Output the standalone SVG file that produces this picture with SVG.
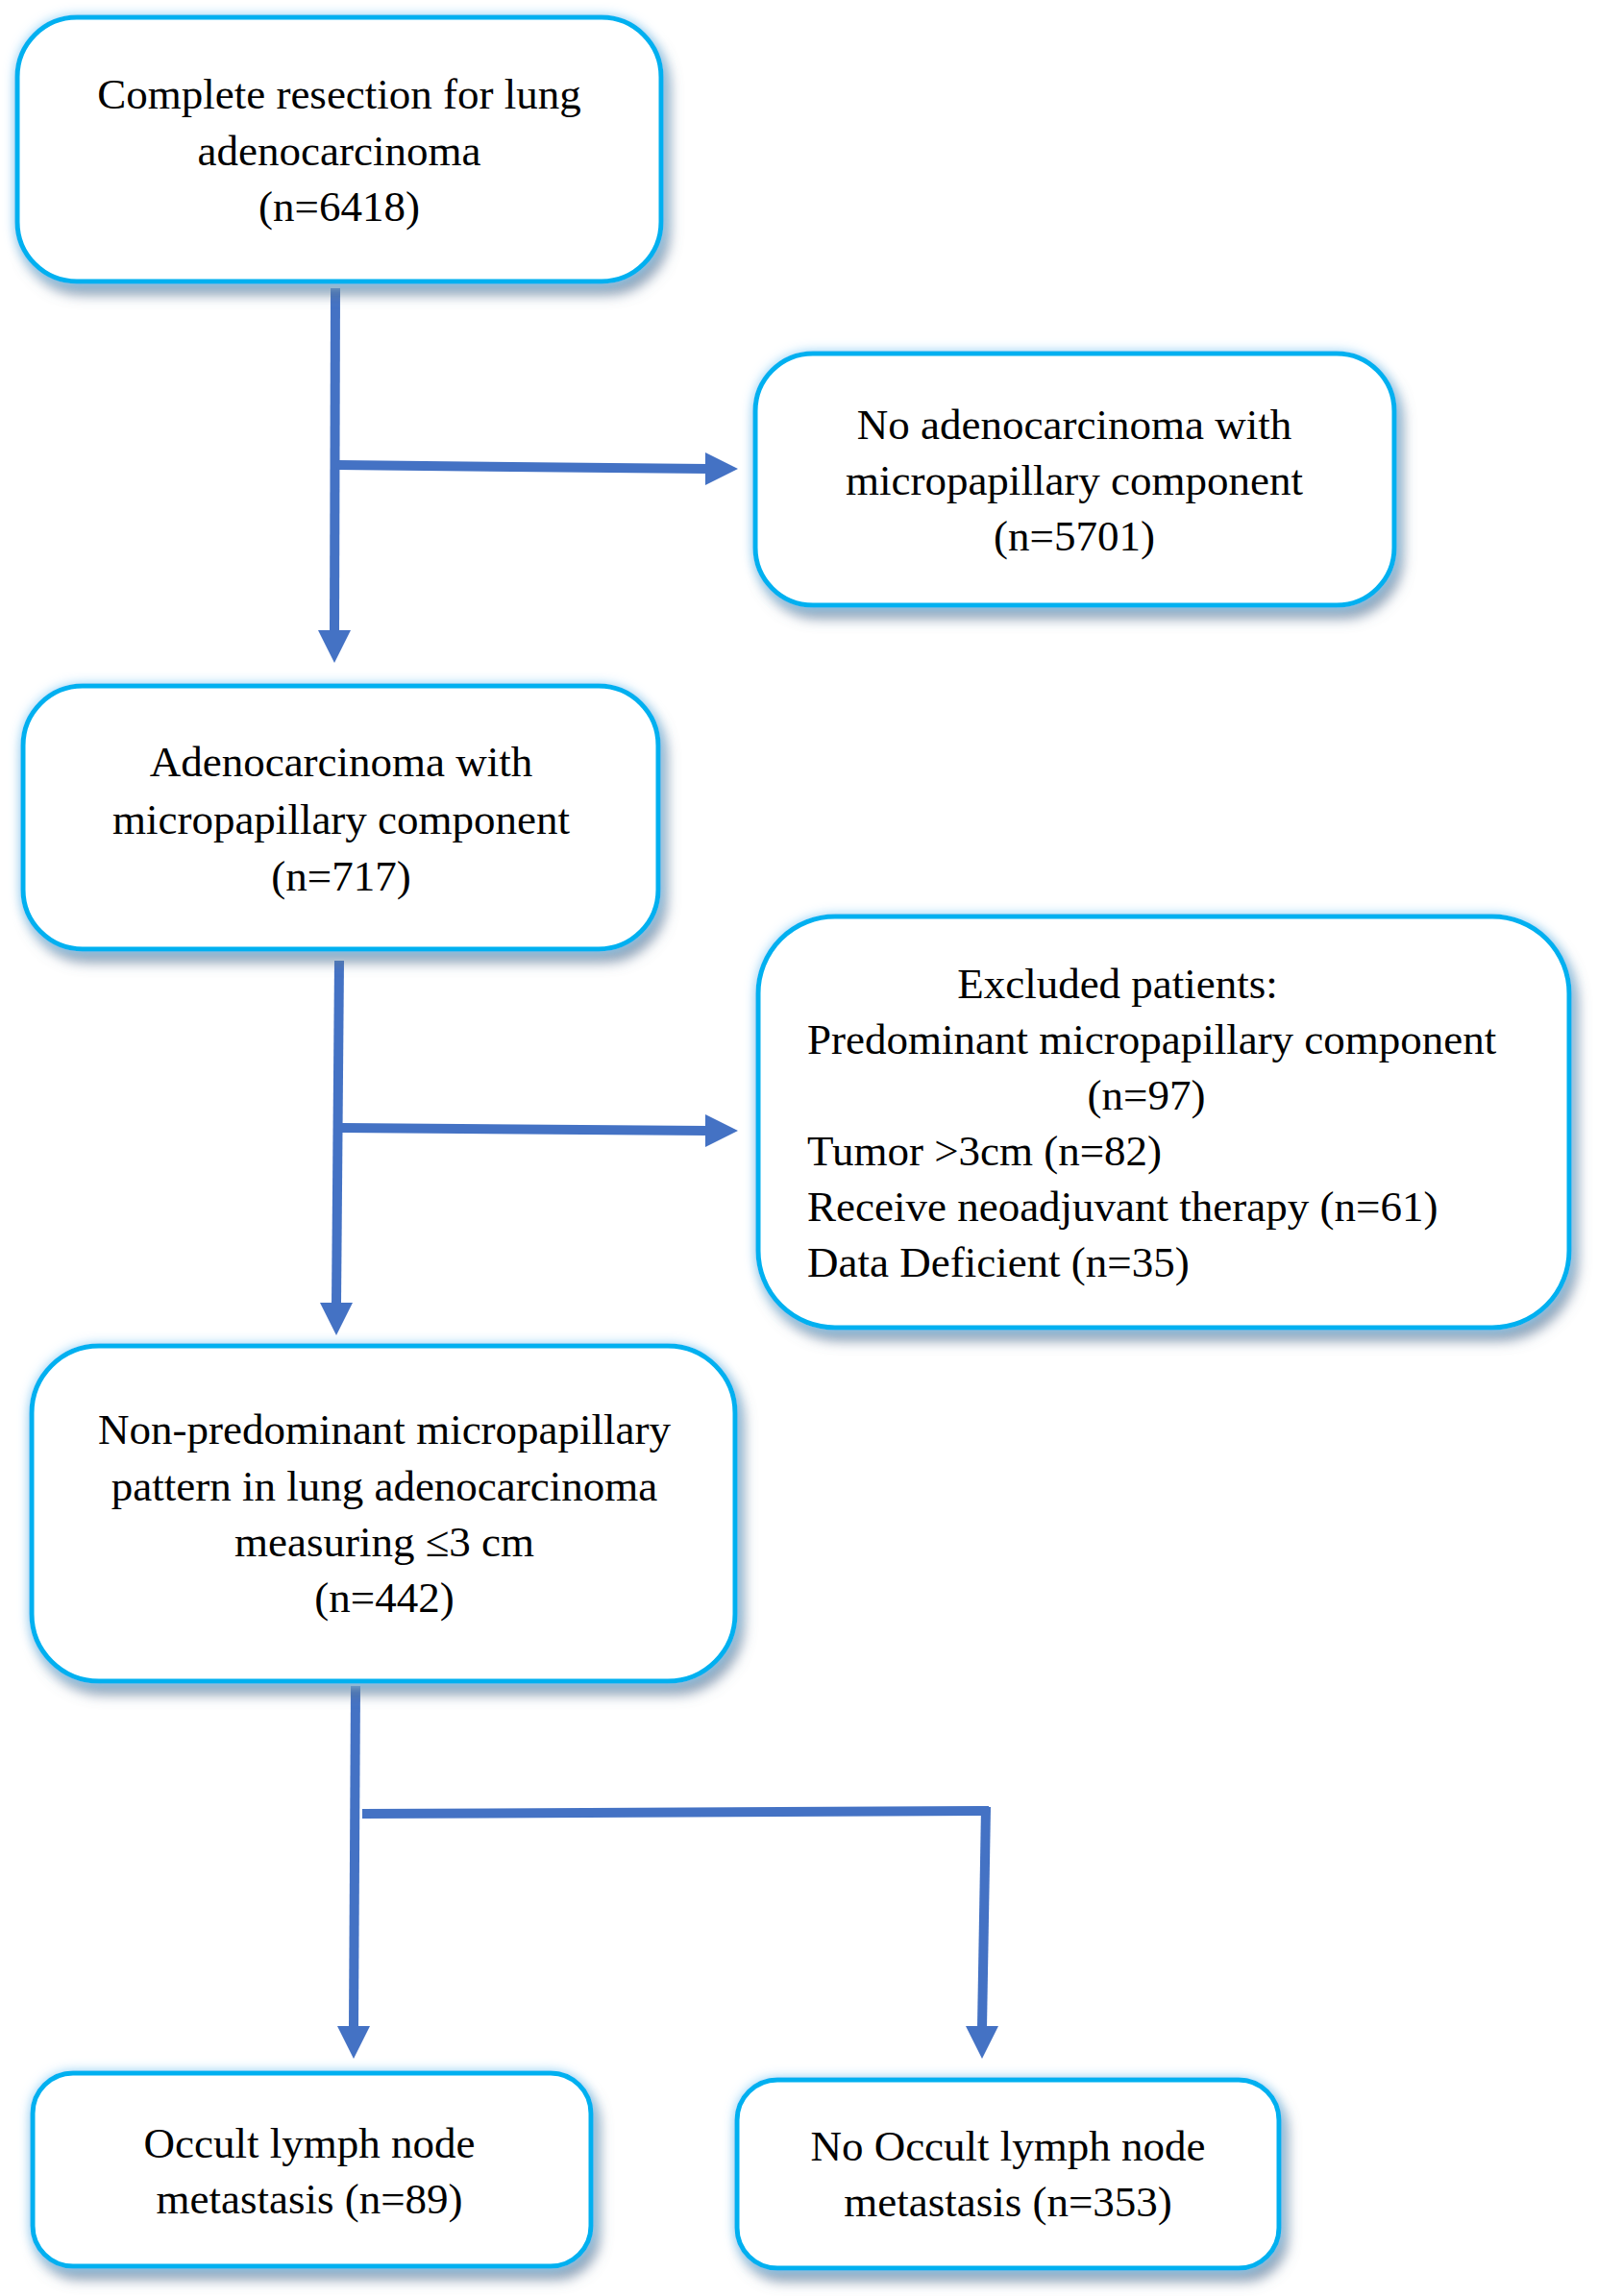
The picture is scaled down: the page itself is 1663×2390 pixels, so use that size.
<svg xmlns="http://www.w3.org/2000/svg" width="1663" height="2390" viewBox="0 0 1663 2390">
<style>
.box{fill:#ffffff;stroke:#00b0f0;stroke-width:5;filter:url(#fx)}
.t{font-family:"Liberation Serif","Times New Roman",serif;font-size:45px;fill:#000000}
.c{text-anchor:middle}
.ln{stroke:#4472c4;stroke-width:10;fill:none}
.ah{fill:#4472c4}
</style>
<defs>
<filter id="fx" x="-15%" y="-15%" width="135%" height="140%">
<feGaussianBlur in="SourceAlpha" stdDeviation="7" result="b"/>
<feOffset in="b" dx="6" dy="11" result="o"/>
<feFlood flood-color="#5f7896" flood-opacity="0.75"/>
<feComposite in2="o" operator="in" result="shadow"/>
<feGaussianBlur in="SourceAlpha" stdDeviation="6" result="g"/>
<feFlood flood-color="#8fd0f7" flood-opacity="0.95"/>
<feComposite in2="g" operator="in" result="glow"/>
<feMerge><feMergeNode in="shadow"/><feMergeNode in="glow"/><feMergeNode in="SourceGraphic"/></feMerge>
</filter>
</defs>
<rect width="1663" height="2390" fill="#ffffff"/>
<g id="connectors">
<line class="ln" x1="349" y1="300" x2="348" y2="658"/>
<polygon class="ah" points="331,656 365,656 348,690"/>
<line class="ln" x1="351" y1="484" x2="736" y2="488"/>
<polygon class="ah" points="734,471 768,488 734,505"/>
<line class="ln" x1="353" y1="1000" x2="350" y2="1358"/>
<polygon class="ah" points="333,1356 367,1356 350,1390"/>
<line class="ln" x1="356" y1="1174" x2="736" y2="1177"/>
<polygon class="ah" points="734,1160 768,1177 734,1194"/>
<line class="ln" x1="370" y1="1755" x2="368" y2="2111"/>
<polygon class="ah" points="351,2109 385,2109 368,2143"/>
<line class="ln" x1="377" y1="1888" x2="1029" y2="1885"/>
<line class="ln" x1="1026" y1="1881" x2="1022" y2="2111"/>
<polygon class="ah" points="1005,2109 1039,2109 1022,2143"/>
</g>
<g id="n1">
<rect class="box" x="18" y="18" width="670" height="275" rx="62"/>
<text class="t c" x="353" y="113">Complete resection for lung</text>
<text class="t c" x="353" y="172">adenocarcinoma</text>
<text class="t c" x="353" y="230">(n=6418)</text>
</g>
<g id="n2">
<rect class="box" x="786" y="368" width="665" height="262" rx="60"/>
<text class="t c" x="1118" y="457">No adenocarcinoma with</text>
<text class="t c" x="1118" y="515">micropapillary component</text>
<text class="t c" x="1118" y="573">(n=5701)</text>
</g>
<g id="n3">
<rect class="box" x="24" y="714" width="661" height="274" rx="62"/>
<text class="t c" x="355" y="808">Adenocarcinoma with</text>
<text class="t c" x="355" y="868">micropapillary component</text>
<text class="t c" x="355" y="927">(n=717)</text>
</g>
<g id="n4">
<rect class="box" x="789" y="954" width="844" height="428" rx="80"/>
<text class="t c" x="1163" y="1039">Excluded patients:</text>
<text class="t" x="840" y="1097">Predominant micropapillary component</text>
<text class="t c" x="1193" y="1155">(n=97)</text>
<text class="t" x="840" y="1213">Tumor &gt;3cm (n=82)</text>
<text class="t" x="840" y="1271">Receive neoadjuvant therapy (n=61)</text>
<text class="t" x="840" y="1329">Data Deficient (n=35)</text>
</g>
<g id="n5">
<rect class="box" x="33" y="1401" width="732" height="349" rx="70"/>
<text class="t c" x="400" y="1503">Non-predominant micropapillary</text>
<text class="t c" x="400" y="1562">pattern in lung adenocarcinoma</text>
<text class="t c" x="400" y="1620">measuring ≤3 cm</text>
<text class="t c" x="400" y="1678">(n=442)</text>
</g>
<g id="n6">
<rect class="box" x="34" y="2158" width="581" height="201" rx="42"/>
<text class="t c" x="322" y="2246">Occult lymph node</text>
<text class="t c" x="322" y="2304">metastasis (n=89)</text>
</g>
<g id="n7">
<rect class="box" x="767" y="2165" width="564" height="196" rx="42"/>
<text class="t c" x="1049" y="2249">No Occult lymph node</text>
<text class="t c" x="1049" y="2307">metastasis (n=353)</text>
</g>
</svg>
